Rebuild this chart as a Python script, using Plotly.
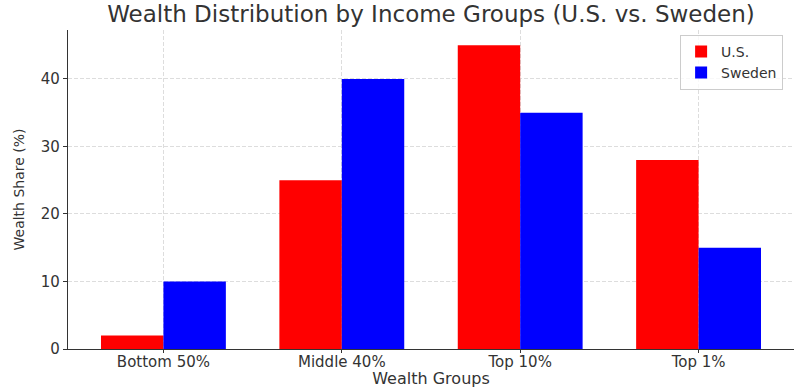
import plotly.graph_objects as go

categories = ["Bottom 50%", "Middle 40%", "Top 10%", "Top 1%"]
us_values = [2, 25, 45, 28]
sweden_values = [10, 40, 35, 15]
y_ticks = [0, 10, 20, 30, 40]

fig = go.Figure()
fig.add_trace(go.Bar(x=categories, y=us_values, name="U.S.", marker=dict(color="#ff0000", line=dict(width=0))))
fig.add_trace(go.Bar(x=categories, y=sweden_values, name="Sweden", marker=dict(color="#0000ff", line=dict(width=0))))

font = "DejaVu Sans, sans-serif"
fig.update_layout(
    width=798, height=388,
    margin=dict(l=68, r=4, t=30, b=39, autoexpand=False),
    paper_bgcolor="white", plot_bgcolor="white",
    barmode="group", bargap=0.3, bargroupgap=0,
    font=dict(family=font, size=15, color="#333333"),
    title=dict(text="Wealth Distribution by Income Groups (U.S. vs. Sweden)", xref="paper", x=0.5,
               xanchor="center", y=0.985, yanchor="top", font=dict(size=23, color="#333333")),
    legend=dict(x=0.985, y=0.985, xanchor="right", yanchor="top", bgcolor="rgba(255,255,255,0.8)",
                bordercolor="#cccccc", borderwidth=1, font=dict(size=14), tracegroupgap=0),
    xaxis=dict(range=[-0.535, 3.535], showline=True, linecolor="#333333", linewidth=1.2,
               ticks="outside", ticklen=3, tickcolor="#333333", ticklabelstandoff=-4,
               showgrid=True, gridcolor="#dddddd", griddash="4px,2px", gridwidth=1,
               title=dict(text="Wealth Groups", standoff=0, font=dict(size=16))),
    yaxis=dict(range=[0, 47.25], tickvals=y_ticks, showline=True, linecolor="#333333", linewidth=1.2,
               ticks="outside", ticklen=4, tickcolor="#333333",
               showgrid=True, gridcolor="#dddddd", griddash="4px,2px", gridwidth=1, zeroline=False,
               title=dict(text="Wealth Share (%)", standoff=12, font=dict(size=14))),
)

fig.write_html("out.html", config={"displayModeBar": False},
               post_script="document.body.style.margin='0';document.body.style.padding='0';")
